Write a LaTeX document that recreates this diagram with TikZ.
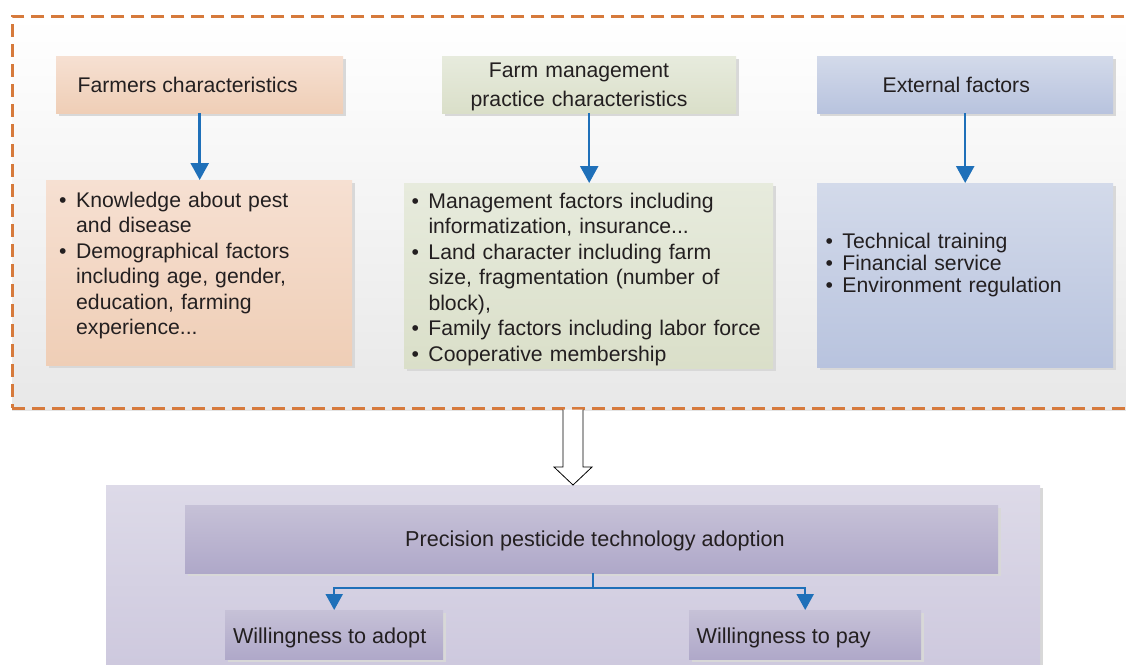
\documentclass[tikz,border=0pt]{standalone}
\usepackage{fontspec}
\setmainfont{Liberation Sans}
\usetikzlibrary{arrows.meta,calc,shadows}

\definecolor{inktext}{RGB}{35,31,32}
\definecolor{dashorange}{RGB}{214,122,60}
\definecolor{flowblue}{RGB}{31,112,185}
\definecolor{shadowgray}{RGB}{216,216,216}
\definecolor{paneltop}{RGB}{255,255,255}
\definecolor{panelbot}{RGB}{232,232,232}
\definecolor{peachtop}{RGB}{246,224,210}
\definecolor{peachbot}{RGB}{239,206,182}
\definecolor{greentop}{RGB}{231,235,221}
\definecolor{greenbot}{RGB}{218,223,201}
\definecolor{bluetop}{RGB}{211,218,234}
\definecolor{bluebot}{RGB}{184,195,222}
\definecolor{lilactop}{RGB}{221,218,232}
\definecolor{lilacbot}{RGB}{204,199,221}
\definecolor{mauvetop}{RGB}{198,193,215}
\definecolor{mauvebot}{RGB}{175,168,201}

% first line of a bullet item, and its continuation lines
\newcommand\itemfirst[1]{\leavevmode\hbox to 17pt{\textbullet\hfil}#1}
\newcommand\itemcont[1]{\leavevmode\hspace*{17pt}#1}

\tikzset{
  x=1pt, y=-1pt,
  boxbase/.style={rectangle, inner sep=0pt, anchor=north west,
    drop shadow={shadow xshift=3pt, shadow yshift=-3pt, fill=shadowgray, opacity=1}},
  peachbox/.style={boxbase, top color=peachtop, bottom color=peachbot},
  greenbox/.style={boxbase, top color=greentop, bottom color=greenbot},
  bluebox/.style={boxbase, top color=bluetop, bottom color=bluebot},
  lilacbox/.style={boxbase, top color=lilactop, bottom color=lilacbot},
  mauvebox/.style={boxbase, top color=mauvetop, bottom color=mauvebot},
  lbl/.style={inner sep=0pt, text=inktext, anchor=base west,
    font=\fontsize{21.2}{25.5}\selectfont},
  bigl/.style={lbl, font=\fontsize{21.6}{25.5}\selectfont},
  listtext/.style={lbl, text width=400pt, align=left},
  flow/.style={draw=flowblue, line width=2.5pt, -{Triangle[length=17pt,width=18pt]}},
  subflow/.style={draw=flowblue, line width=2.2pt, -{Triangle[length=16pt,width=17pt]}},
  hollow/.style={draw=black, line width=0.8pt, fill=white, line join=miter},
}

\begin{document}
\begin{tikzpicture}
\useasboundingbox (0,0) rectangle (1126,664);
\clip (0,0) rectangle (1126,664);

% dashed panel holding the three groups of factors
\node[rectangle, inner sep=0pt, anchor=north west,
      minimum width=1140pt, minimum height=392pt,
      top color=paneltop, bottom color=panelbot,
      draw=dashorange, line width=2.6pt, dash pattern=on 13pt off 7pt,
      drop shadow={shadow xshift=0pt, shadow yshift=-3pt, fill=black!10, opacity=1}]
      (panel) at (11,15) {};

% headers
\node[peachbox, minimum width=287pt, minimum height=57pt] (fh) at (56,56) {};
\node[greenbox, minimum width=294pt, minimum height=57pt] (mh) at (442,56) {};
\node[bluebox,  minimum width=296pt, minimum height=57pt] (eh) at (817,56) {};

% detail boxes
\node[peachbox, minimum width=306pt, minimum height=185pt] (fb) at (46,180) {};
\node[greenbox, minimum width=369pt, minimum height=185pt] (mb) at (404,183) {};
\node[bluebox,  minimum width=296pt, minimum height=184pt] (eb) at (817,183) {};

% header labels
\node[lbl] (fht) at (77.4,92.5) {Farmers characteristics};
\node[lbl, anchor=base, text width=320pt, align=center,
      font=\fontsize{21.2}{29.4}\selectfont] (mht) at (579,77.3)
      {Farm management\\practice characteristics};
\node[lbl] (eht) at (882.4,92.5) {External factors};

% detail lists
\node[listtext] (fbt) at (59,207.3) {%
  \itemfirst{Knowledge about pest}\\
  \itemcont{and disease}\\
  \itemfirst{Demographical factors}\\
  \itemcont{including age, gender,}\\
  \itemcont{education, farming}\\
  \itemcont{experience...}};
\node[listtext] (mbt) at (411.3,208) {%
  \itemfirst{Management factors including}\\
  \itemcont{informatization, insurance...}\\
  \itemfirst{Land character including farm}\\
  \itemcont{size, fragmentation (number of}\\
  \itemcont{block),}\\
  \itemfirst{Family factors including labor force}\\
  \itemfirst{Cooperative membership}};
\node[listtext, font=\fontsize{21.2}{22}\selectfont] (ebt) at (825.3,248) {%
  \itemfirst{Technical training}\\
  \itemfirst{Financial service}\\
  \itemfirst{Environment regulation}};

% header-to-detail arrows
\draw[flow] (fh.south) -- (fh.south |- fb.north);
\draw[flow] (mh.south) -- (mh.south |- mb.north);
\draw[flow] (eh.south) -- (eh.south |- eb.north);

% outcome block
\node[lilacbox, minimum width=934pt, minimum height=200pt] (outcome) at (106,485) {};
\node[mauvebox, minimum width=813pt, minimum height=68pt] (pp) at (185,505) {};
\node[mauvebox, minimum width=218pt, minimum height=49pt] (wa) at (225,610) {};
\node[mauvebox, minimum width=232pt, minimum height=49pt] (wp) at (689,610) {};

\node[bigl] (ppt) at (405,546) {Precision pesticide technology adoption};
\node[bigl] (wat) at (232.8,643) {Willingness to adopt};
\node[bigl] (wpt) at (696.5,643) {Willingness to pay};

% hollow arrow from the factors panel to the outcome block
\coordinate (hatip) at (573,485);
\coordinate (hatop) at (panel.south -| hatip);
\draw[hollow] ($(hatop)+(-10,0)$) -- ($(hatip)+(-10,-18)$) -- ($(hatip)+(-19,-18)$)
  -- (hatip) -- ($(hatip)+(19,-18)$) -- ($(hatip)+(10,-18)$) -- ($(hatop)+(10,0)$);

% split into the two willingness measures
\coordinate (split) at (593,588);
\draw[draw=flowblue, line width=2.2pt] (pp.south -| split) -- (split);
\draw[subflow] (split) -| (wa.north);
\draw[subflow] (split) -| (wp.north);
\end{tikzpicture}
\end{document}
